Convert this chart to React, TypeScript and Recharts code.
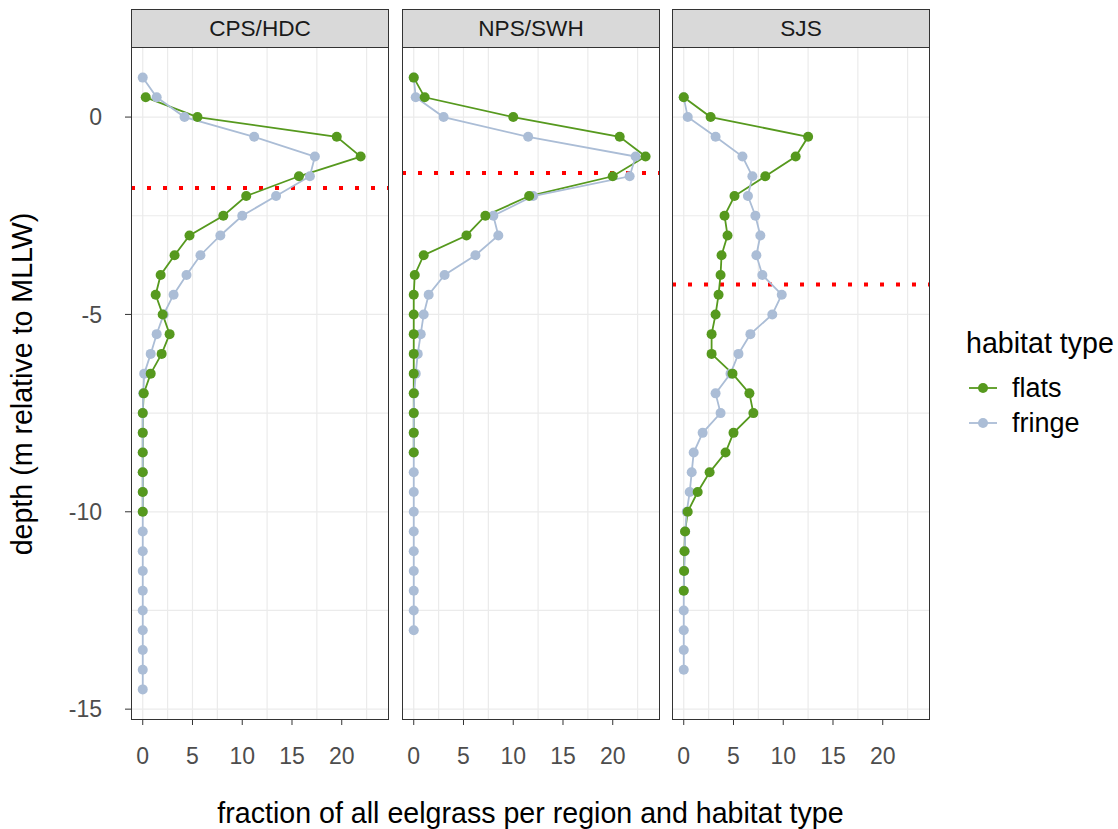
import React from "react";
import {
    ScatterChart,
    Scatter,
    XAxis,
    YAxis,
    CartesianGrid,
    ReferenceLine,
} from "recharts";

// facets and their cutoff depth (red dotted line)
const regions = ["CPS/HDC", "NPS/SWH", "SJS"];
const cutoffDepths = [-1.8, -1.42, -4.24];

// depth bins (m relative to MLLW), first/last per series
const cpsFringeDepth = [1, 0.5, 0, -0.5, -1, -1.5, -2, -2.5, -3, -3.5, -4, -4.5, -5, -5.5, -6, -6.5, -7, -7.5, -8, -8.5, -9, -9.5, -10, -10.5, -11, -11.5, -12, -12.5, -13, -13.5, -14, -14.5];
const cpsFringeValue = [0, 1.4, 4.2, 11.2, 17.3, 16.8, 13.4, 10.0, 7.8, 5.8, 4.4, 3.1, 2.1, 1.4, 0.8, 0.15, 0.05, 0, 0, 0, 0, 0, 0, 0, 0, 0, 0, 0, 0, 0, 0, 0];
const cpsFlatsDepth = [0.5, 0, -0.5, -1, -1.5, -2, -2.5, -3, -3.5, -4, -4.5, -5, -5.5, -6, -6.5, -7, -7.5, -8, -8.5, -9, -9.5, -10];
const cpsFlatsValue = [0.3, 5.5, 19.5, 21.9, 15.7, 10.4, 8.1, 4.7, 3.2, 1.8, 1.3, 2.0, 2.7, 1.9, 0.8, 0.1, 0, 0, 0, 0, 0, 0];

const npsFringeDepth = [1, 0.5, 0, -0.5, -1, -1.5, -2, -2.5, -3, -3.5, -4, -4.5, -5, -5.5, -6, -6.5, -7, -7.5, -8, -8.5, -9, -9.5, -10, -10.5, -11, -11.5, -12, -12.5, -13];
const npsFringeValue = [0, 0.2, 3.0, 11.5, 22.3, 21.7, 12.0, 8.0, 8.5, 6.2, 3.1, 1.5, 1.0, 0.7, 0.4, 0.2, 0.05, 0, 0, 0, 0, 0, 0, 0, 0, 0, 0, 0, 0];
const npsFlatsDepth = [1, 0.5, 0, -0.5, -1, -1.5, -2, -2.5, -3, -3.5, -4, -4.5, -5, -5.5, -6, -6.5, -7, -7.5, -8, -8.5];
const npsFlatsValue = [0, 1.1, 10.0, 20.7, 23.3, 20.0, 11.6, 7.2, 5.3, 1.0, 0.1, 0, 0, 0, 0, 0, 0, 0, 0, 0];

const sjsFringeDepth = [0.5, 0, -0.5, -1, -1.5, -2, -2.5, -3, -3.5, -4, -4.5, -5, -5.5, -6, -6.5, -7, -7.5, -8, -8.5, -9, -9.5, -10, -10.5, -11, -11.5, -12, -12.5, -13, -13.5, -14];
const sjsFringeValue = [0, 0.4, 3.2, 5.9, 6.9, 6.45, 7.2, 7.7, 7.3, 7.9, 9.85, 8.9, 6.7, 5.5, 4.7, 3.2, 3.7, 1.9, 1.0, 0.8, 0.6, 0.3, 0.15, 0.1, 0.05, 0, 0, 0, 0, 0];
const sjsFlatsDepth = [0.5, 0, -0.5, -1, -1.5, -2, -2.5, -3, -3.5, -4, -4.5, -5, -5.5, -6, -6.5, -7, -7.5, -8, -8.5, -9, -9.5, -10, -10.5, -11, -11.5, -12];
const sjsFlatsValue = [0, 2.7, 12.5, 11.25, 8.2, 5.1, 4.1, 4.4, 3.8, 3.7, 3.5, 3.2, 2.8, 2.8, 4.9, 6.6, 7.0, 5.0, 4.2, 2.6, 1.4, 0.4, 0.13, 0.07, 0.03, 0];

const xTicks = [0, 5, 10, 15, 20];
const yTicks = [0, -5, -10, -15];
const xGrid = [0, 2.5, 5, 7.5, 10, 12.5, 15, 17.5, 20, 22.5];
const yGrid = [0, -2.5, -5, -7.5, -10, -12.5, -15];

const FLATS = "#56991E";
const FRINGE = "#ABBDD6";
const FONT = '"Liberation Sans", Arial, sans-serif';

const toPoints = (depth: number[], value: number[]) =>
    depth.map((d, i) => ({ x: value[i], y: d }));

const panels = [
    { flats: toPoints(cpsFlatsDepth, cpsFlatsValue), fringe: toPoints(cpsFringeDepth, cpsFringeValue) },
    { flats: toPoints(npsFlatsDepth, npsFlatsValue), fringe: toPoints(npsFringeDepth, npsFringeValue) },
    { flats: toPoints(sjsFlatsDepth, sjsFlatsValue), fringe: toPoints(sjsFringeDepth, sjsFringeValue) },
];

const panelLeft = [131, 402, 672];
const PANEL_W = 258;
const PANEL_TOP = 47;
const PANEL_BOTTOM = 720;
const H = 829;
const R = 5;

const noDot = () => <g />;
const dot = (color: string) => (props: any) => (
    <circle cx={props.cx} cy={props.cy} r={R} fill={color} />
);

const Panel = ({ idx }: { idx: number }) => {
    const first = idx === 0;
    const yW = first ? panelLeft[0] : 0;
    const p = panels[idx];
    return (
        <div style={{ position: "absolute", left: first ? 0 : panelLeft[idx], top: 0 }}>
            <ScatterChart
                width={PANEL_W + yW}
                height={H}
                margin={{ top: PANEL_TOP, right: 0, left: 0, bottom: 0 }}
            >
                <CartesianGrid
                    stroke="#EBEBEB"
                    strokeWidth={1.2}
                    verticalValues={xGrid}
                    horizontalValues={yGrid}
                />
                <XAxis
                    type="number"
                    dataKey="x"
                    domain={[-1.18, 24.75]}
                    ticks={xTicks}
                    height={H - PANEL_BOTTOM}
                    axisLine={false}
                    tickLine={{ stroke: "#333333" }}
                    tickSize={5}
                    tickMargin={23}
                    tick={{ fill: "#4D4D4D", fontSize: 23, fontFamily: FONT }}
                />
                <YAxis
                    type="number"
                    dataKey="y"
                    domain={[-15.275, 1.775]}
                    ticks={yTicks}
                    hide={!first}
                    width={yW}
                    axisLine={false}
                    tickLine={{ stroke: "#333333" }}
                    tickSize={6}
                    tickMargin={23}
                    tick={{ fill: "#4D4D4D", fontSize: 23, fontFamily: FONT }}
                />
                <Scatter data={p.flats} line={{ stroke: FLATS, strokeWidth: 1.8 }} shape={noDot} isAnimationActive={false} />
                <Scatter data={p.fringe} line={{ stroke: FRINGE, strokeWidth: 1.8 }} shape={noDot} isAnimationActive={false} />
                <Scatter data={p.fringe} shape={dot(FRINGE)} isAnimationActive={false} />
                <Scatter data={p.flats} shape={dot(FLATS)} isAnimationActive={false} />
                <ReferenceLine
                    y={cutoffDepths[idx]}
                    stroke="#FF0000"
                    strokeWidth={4}
                    strokeDasharray="4 12"
                />
            </ScatterChart>
            {/* panel border */}
            <div
                style={{
                    position: "absolute",
                    left: yW,
                    top: PANEL_TOP,
                    width: PANEL_W,
                    height: PANEL_BOTTOM - PANEL_TOP,
                    border: "1px solid #333333",
                    boxSizing: "border-box",
                    pointerEvents: "none",
                }}
            />
            {/* strip */}
            <div
                style={{
                    position: "absolute",
                    left: yW,
                    top: 9,
                    width: PANEL_W,
                    height: PANEL_TOP - 9 + 1,
                    background: "#D9D9D9",
                    border: "1px solid #333333",
                    boxSizing: "border-box",
                    display: "flex",
                    alignItems: "center",
                    justifyContent: "center",
                    fontSize: 22.6,
                    color: "#1A1A1A",
                    fontFamily: FONT,
                }}
            >
                {regions[idx]}
            </div>
        </div>
    );
};

const LegendRow = ({ color, label, top }: { color: string; label: string; top: number }) => (
    <div style={{ position: "absolute", left: 966, top: top - 20, height: 40, display: "flex", alignItems: "center" }}>
        <svg width={34} height={40}>
            <line x1={3} y1={20} x2={31} y2={20} stroke={color} strokeWidth={1.8} />
            <circle cx={17} cy={20} r={R} fill={color} />
        </svg>
        <span style={{ marginLeft: 12, fontSize: 27, color: "#000", fontFamily: FONT }}>{label}</span>
    </div>
);

export default function App() {
    return (
        <div
            style={{
                position: "absolute",
                left: 0,
                top: 0,
                width: 1118,
                height: H,
                background: "#FFFFFF",
                fontFamily: FONT,
                overflow: "hidden",
            }}
        >
            {regions.map((_, i) => (
                <Panel key={i} idx={i} />
            ))}
            <div
                style={{
                    position: "absolute",
                    left: 22,
                    top: (PANEL_TOP + PANEL_BOTTOM) / 2,
                    transform: "translate(-50%, -50%) rotate(-90deg)",
                    whiteSpace: "nowrap",
                    fontSize: 28.6,
                    color: "#000",
                }}
            >
                depth (m relative to MLLW)
            </div>
            <div
                style={{
                    position: "absolute",
                    left: (panelLeft[0] + panelLeft[2] + PANEL_W) / 2,
                    top: 813,
                    transform: "translate(-50%, -50%)",
                    whiteSpace: "nowrap",
                    fontSize: 28.6,
                    color: "#000",
                }}
            >
                fraction of all eelgrass per region and habitat type
            </div>
            <div
                style={{
                    position: "absolute",
                    left: 966,
                    top: 343,
                    transform: "translateY(-50%)",
                    whiteSpace: "nowrap",
                    fontSize: 28.6,
                    color: "#000",
                }}
            >
                habitat type
            </div>
            <LegendRow color={FLATS} label="flats" top={388} />
            <LegendRow color={FRINGE} label="fringe" top={423} />
        </div>
    );
}
